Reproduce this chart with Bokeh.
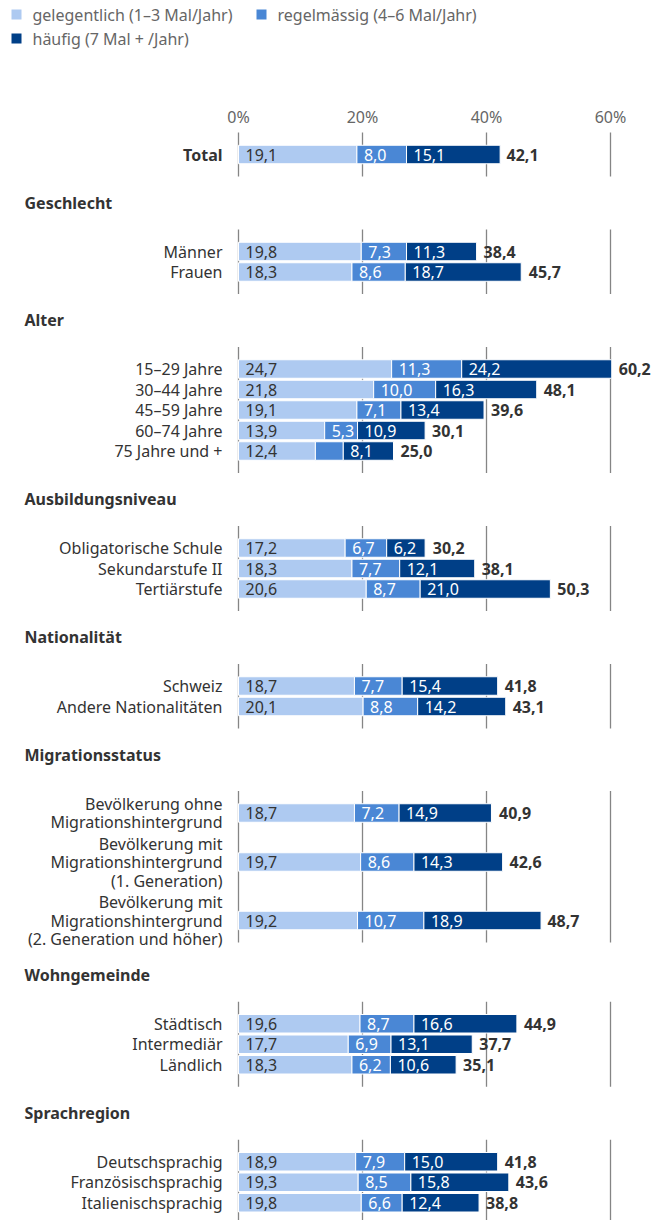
from bokeh.plotting import figure
from bokeh.models import Range1d, ColumnDataSource
from bokeh.core.properties import value
from bokeh.embed import file_html
from bokeh.resources import INLINE

# ---------------- data ----------------
series_names = ["gelegentlich (1–3 Mal/Jahr)", "regelmässig (4–6 Mal/Jahr)", "häufig (7 Mal + /Jahr)"]

group_names = ["", "Geschlecht", "Alter", "Ausbildungsniveau", "Nationalität",
               "Migrationsstatus", "Wohngemeinde", "Sprachregion"]
group_members = [
    ["Total"],
    ["Männer", "Frauen"],
    ["15–29 Jahre", "30–44 Jahre", "45–59 Jahre", "60–74 Jahre", "75 Jahre und +"],
    ["Obligatorische Schule", "Sekundarstufe II", "Tertiärstufe"],
    ["Schweiz", "Andere Nationalitäten"],
    ["Bevölkerung ohne\nMigrationshintergrund",
     "Bevölkerung mit\nMigrationshintergrund\n(1. Generation)",
     "Bevölkerung mit\nMigrationshintergrund\n(2. Generation und höher)"],
    ["Städtisch", "Intermediär", "Ländlich"],
    ["Deutschsprachig", "Französischsprachig", "Italienischsprachig"],
]

gelegentlich = [19.1, 19.8, 18.3, 24.7, 21.8, 19.1, 13.9, 12.4, 17.2, 18.3, 20.6,
                18.7, 20.1, 18.7, 19.7, 19.2, 19.6, 17.7, 18.3, 18.9, 19.3, 19.8]
regelmaessig = [8.0, 7.3, 8.6, 11.3, 10.0, 7.1, 5.3, 4.5, 6.7, 7.7, 8.7,
                7.7, 8.8, 7.2, 8.6, 10.7, 8.7, 6.9, 6.2, 7.9, 8.5, 6.6]
haeufig = [15.1, 11.3, 18.7, 24.2, 16.3, 13.4, 10.9, 8.1, 6.2, 12.1, 21.0,
           15.4, 14.2, 14.9, 14.3, 18.9, 16.6, 13.1, 10.6, 15.0, 15.8, 12.4]
total = [42.1, 38.4, 45.7, 60.2, 48.1, 39.6, 30.1, 25.0, 30.2, 38.1, 50.3,
         41.8, 43.1, 40.9, 42.6, 48.7, 44.9, 37.7, 35.1, 41.8, 43.6, 38.8]

tick_values = [0, 20, 40, 60]
tick_labels = ["0%", "20%", "40%", "60%"]

# ---------------- styles / layout ----------------
COLORS = ["#aecaf1", "#4a87d5", "#003f87"]
TEXT_IN = ["#333333", "#ffffff", "#ffffff"]
DARK = "#333333"
GREY = "#666666"
GRID = "#858585"
FONT = value("Noto Sans")
FS = "16px"

W, H = 664, 1220
X0, PPU = 238.0, 6.2          # pixel of 0 %, pixels per %


def px2x(px):
    return (px - X0) / PPU


LINE_H = 19.0
BAR_H = 18.5

# compute row centres (image pixel coordinates, y grows downward)
row_y, row_lines, header_pos, grid_spans = [], [], [], []
y_total = 154.0
last_center, last_h = None, None
for gi, members in enumerate(group_members):
    if gi == 0:
        centers = [y_total]
        hs = [LINE_H + 1.5]
    else:
        hdr = last_center + max(48.0, last_h / 2 + 25.0)
        header_pos.append((group_names[gi], hdr))
        top = hdr + 38.75
        centers, hs = [], []
        for lab in members:
            h = max(1, len(lab.split("\n"))) * LINE_H + 1.5
            centers.append(top + h / 2)
            hs.append(h)
            top += h
    for lab, c in zip(members, centers):
        row_y.append(c)
        row_lines.append(lab)
    grid_spans.append((centers[0] - 22, centers[-1] + 22))
    last_center, last_h = centers[-1], hs[-1]

p = figure(width=W, height=H, x_range=Range1d(px2x(0), px2x(W)),
           y_range=Range1d(H, 0), output_backend="svg", toolbar_location=None,
           min_border=0, x_axis_location=None, y_axis_location=None)
p.grid.visible = False
p.outline_line_color = None
p.background_fill_color = "white"
p.border_fill_color = "white"

# gridlines per group
gx0, gx1, gy0, gy1 = [], [], [], []
for (a, b) in grid_spans:
    for t in tick_values:
        gx0.append(t); gx1.append(t); gy0.append(a); gy1.append(b)
p.segment(x0=gx0, y0=gy0, x1=gx1, y1=gy1, line_color=GRID, line_width=1.3)

# tick labels
p.text(x=tick_values, y=[116] * len(tick_values), text=tick_labels, text_font=FONT,
       text_font_size=FS, text_align="center", text_baseline="middle", text_color=GREY)

# stacked bars
series = [gelegentlich, regelmaessig, haeufig]
lefts = [0.0] * len(row_y)
for si, vals in enumerate(series):
    rights = [l + v for l, v in zip(lefts, vals)]
    src = ColumnDataSource(dict(y=row_y, left=lefts, right=rights))
    p.hbar(y="y", left="left", right="right", height=BAR_H, source=src,
           fill_color=COLORS[si], line_color="white", line_width=1)
    tx, ty, tt = [], [], []
    for l, v, yy in zip(lefts, vals, row_y):
        if v >= 5:
            tx.append(l + 7 / PPU); ty.append(yy); tt.append(f"{v:.1f}".replace(".", ","))
    p.text(x=tx, y=ty, text=tt, text_font=FONT, text_font_size=FS, text_align="left",
           text_baseline="middle", text_color=TEXT_IN[si])
    lefts = rights

# total labels
p.text(x=[t + 7 / PPU for t in total], y=row_y,
       text=[f"{t:.1f}".replace(".", ",") for t in total], text_font=FONT,
       text_font_size=FS, text_font_style="bold", text_align="left",
       text_baseline="middle", text_color=DARK)

# row labels (multi-line split)
lx, ly, lt, lb = [], [], [], []
for lab, c in zip(row_lines, row_y):
    parts = lab.split("\n")
    n = len(parts)
    for i, part in enumerate(parts):
        lx.append(px2x(222)); ly.append(c + (i - (n - 1) / 2) * 18.5); lt.append(part)
        lb.append(lab == "Total")
src_l = ColumnDataSource(dict(x=[a for a, b in zip(lx, lb) if not b],
                              y=[a for a, b in zip(ly, lb) if not b],
                              t=[a for a, b in zip(lt, lb) if not b]))
p.text(x="x", y="y", text="t", source=src_l, text_font=FONT, text_font_size=FS,
       text_align="right", text_baseline="middle", text_color=DARK)
p.text(x=[a for a, b in zip(lx, lb) if b], y=[a for a, b in zip(ly, lb) if b],
       text=[a for a, b in zip(lt, lb) if b], text_font=FONT, text_font_size=FS,
       text_font_style="bold", text_align="right", text_baseline="middle", text_color=DARK)

# group headers
p.text(x=[px2x(24)] * len(header_pos), y=[h for _, h in header_pos],
       text=[n for n, _ in header_pos], text_font=FONT, text_font_size=FS,
       text_font_style="bold", text_align="left", text_baseline="middle", text_color=DARK)

# legend
leg_sq_px = [16, 16, 261]
leg_y = [14, 38, 14]
leg_order = [0, 2, 1]
p.scatter(x=[px2x(v) for v in leg_sq_px], y=leg_y, marker="square", size=10,
          fill_color=[COLORS[i] for i in leg_order], line_color=None)
p.text(x=[px2x(v + 16) for v in leg_sq_px], y=leg_y,
       text=[series_names[i] for i in leg_order], text_font=FONT, text_font_size=FS,
       text_align="left", text_baseline="middle", text_color=GREY)

open("out.html", "w").write(file_html(p, INLINE))
